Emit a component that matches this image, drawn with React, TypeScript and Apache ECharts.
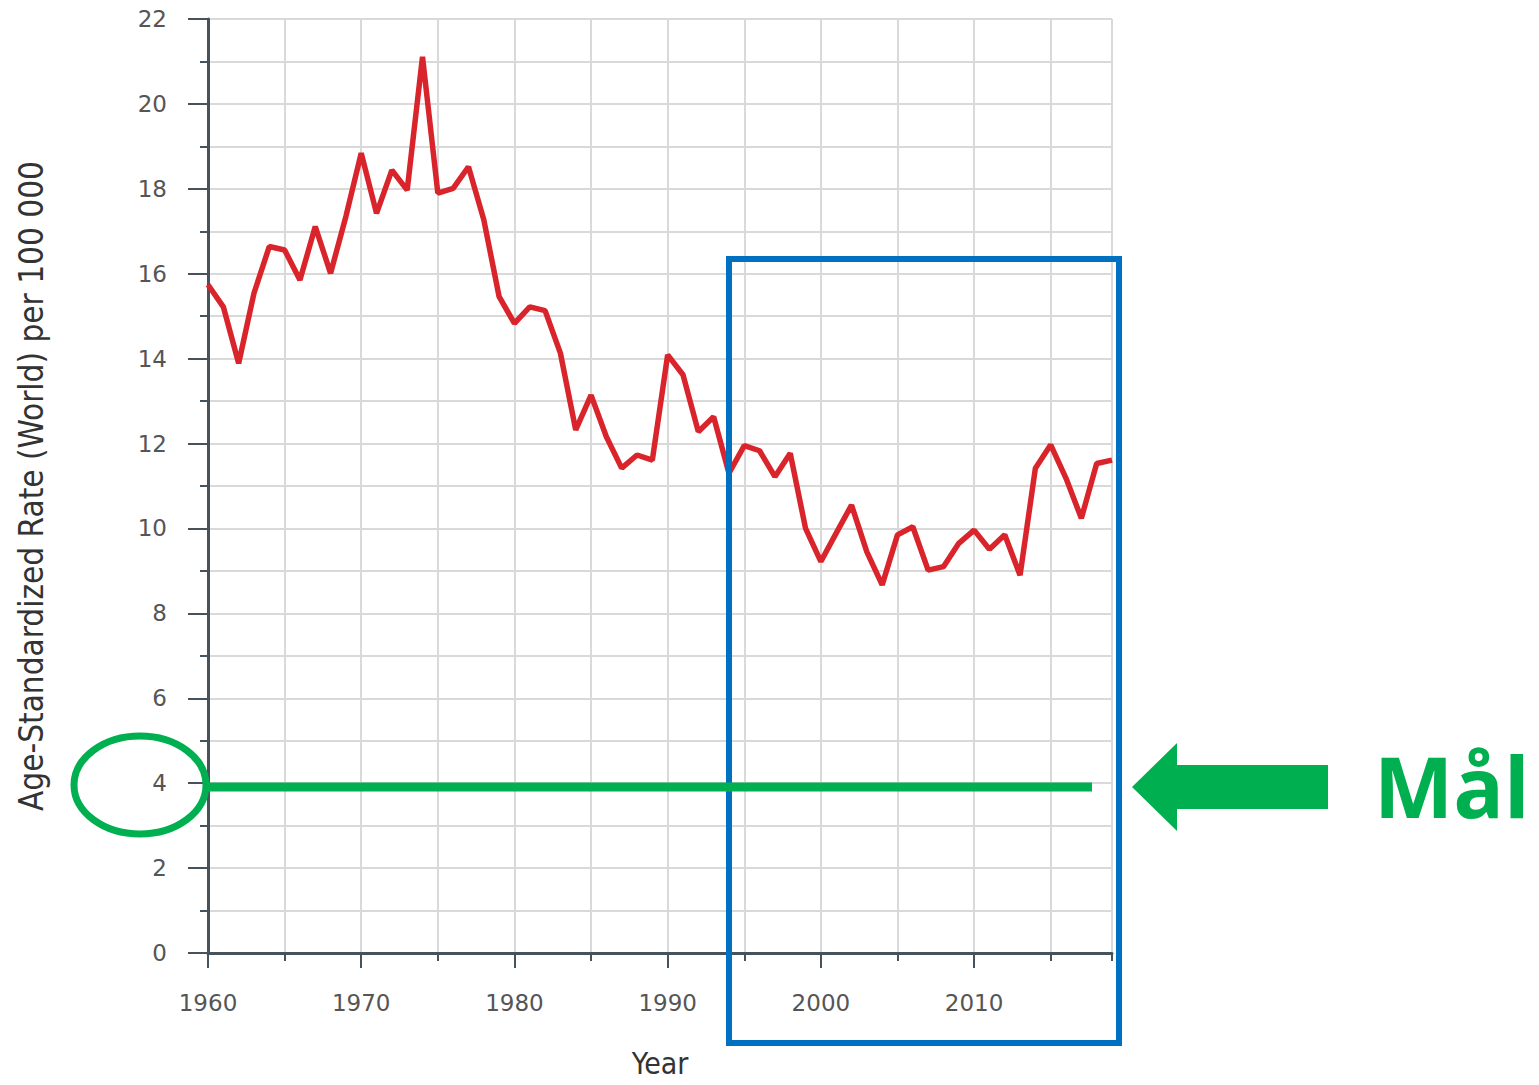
import React, { useEffect, useRef } from "react";
import * as echarts from "echarts";

const years: number[] = [
  1960, 1961, 1962, 1963, 1964, 1965, 1966, 1967, 1968, 1969,
  1970, 1971, 1972, 1973, 1974, 1975, 1976, 1977, 1978, 1979,
  1980, 1981, 1982, 1983, 1984, 1985, 1986, 1987, 1988, 1989,
  1990, 1991, 1992, 1993, 1994, 1995, 1996, 1997, 1998, 1999,
  2000, 2001, 2002, 2003, 2004, 2005, 2006, 2007, 2008, 2009,
  2010, 2011, 2012, 2013, 2014, 2015, 2016, 2017, 2018, 2019,
];
const rates: number[] = [
  15.74, 15.22, 13.89, 15.54, 16.64, 16.56, 15.85, 17.11, 16.01, 17.35,
  18.84, 17.42, 18.44, 17.97, 21.11, 17.9, 18.01, 18.52, 17.27, 15.46,
  14.83, 15.22, 15.13, 14.13, 12.32, 13.14, 12.16, 11.42, 11.73, 11.61,
  14.09, 13.62, 12.28, 12.63, 11.3, 11.95, 11.83, 11.22, 11.77, 10.0,
  9.22, 9.89, 10.55, 9.45, 8.67, 9.85, 10.04, 9.02, 9.1, 9.65,
  9.96, 9.51, 9.85, 8.9, 11.42, 11.97, 11.18, 10.24, 11.53, 11.61,
];
const xLabelYears: number[] = [1960, 1970, 1980, 1990, 2000, 2010];
const goalLabel = "Mål";
const yAxisTitle = "Age-Standardized Rate (World) per 100 000";
const xAxisTitle = "Year";

const axisColor = "#46525c";
const gridColor = "#d9d9d9";
const green = "#00b050";
const titleFont = "DejaVu Sans Condensed, DejaVu Sans, sans-serif";

export default function App() {
  const ref = useRef<HTMLDivElement>(null);
  useEffect(() => {
    if (!ref.current) return;
    const chart = echarts.init(ref.current, undefined, { renderer: "svg" });
    const data = years.map((y, i) => [y, rates[i]]);
    chart.setOption({
      animation: false,
      backgroundColor: "#ffffff",
      grid: { left: 208, right: 427, top: 19, bottom: 132, outerBoundsMode: "none", containLabel: false },
      xAxis: [
        {
          type: "value",
          min: 1960,
          max: 2019,
          interval: 10,
          name: xAxisTitle,
          nameLocation: "middle",
          nameGap: 95,
          nameTextStyle: { fontSize: 30, color: "#333", fontFamily: titleFont },
          axisLine: { show: true, onZero: false, lineStyle: { color: axisColor, width: 3 } },
          axisTick: { show: true, length: 15, customValues: xLabelYears, lineStyle: { color: axisColor, width: 2 } },
          axisLabel: {
            show: true,
            customValues: xLabelYears,
            margin: 38,
            fontSize: 23,
            color: "#555",
            fontFamily: "DejaVu Sans",
            formatter: (v: number) => String(v),
          },
          splitLine: { show: false },
        },
        {
          type: "value",
          min: 1960,
          max: 2019,
          interval: 5,
          position: "bottom",
          axisLine: { show: false },
          axisTick: { show: true, length: 8, lineStyle: { color: axisColor, width: 2 } },
          axisLabel: { show: false },
          splitLine: { show: true, lineStyle: { color: gridColor, width: 2 } },
        },
      ],
      yAxis: {
        type: "value",
        min: 0,
        max: 22,
        interval: 2,
        name: yAxisTitle,
        nameLocation: "middle",
        nameGap: 160,
        nameTextStyle: { fontSize: 33, color: "#333", fontFamily: titleFont },
        axisLine: { show: true, lineStyle: { color: axisColor, width: 3 } },
        axisTick: { show: true, length: 20, lineStyle: { color: axisColor, width: 2 } },
        minorTick: { show: true, splitNumber: 2, length: 8, lineStyle: { color: axisColor, width: 2 } },
        axisLabel: { margin: 41, fontSize: 23, color: "#555", fontFamily: "DejaVu Sans" },
        splitLine: { show: true, lineStyle: { color: gridColor, width: 2 } },
        minorSplitLine: { show: true, lineStyle: { color: gridColor, width: 2 } },
      },
      series: [
        {
          type: "line",
          data,
          showSymbol: false,
          symbol: "none",
          lineStyle: { color: "#d9242b", width: 5.5 },
          z: 3,
        },
      ],
      graphic: [
        {
          type: "rect",
          z: 100,
          shape: { x: 729, y: 259, width: 390, height: 784 },
          style: { fill: "none", stroke: "#0070c0", lineWidth: 6 },
        },
        {
          type: "line",
          z: 100,
          shape: { x1: 208, y1: 787, x2: 1092, y2: 787 },
          style: { stroke: green, lineWidth: 9 },
        },
        {
          type: "ellipse",
          z: 100,
          shape: { cx: 140, cy: 785, rx: 66, ry: 49 },
          style: { fill: "none", stroke: green, lineWidth: 7 },
        },
        {
          type: "polygon",
          z: 100,
          shape: {
            points: [
              [1132, 787], [1177, 743], [1177, 765], [1328, 765],
              [1328, 809], [1177, 809], [1177, 831],
            ],
          },
          style: { fill: green },
        },
        {
          type: "text",
          z: 100,
          x: 1374,
          y: 785,
          style: {
            text: goalLabel,
            fontSize: 84,
            fontWeight: "bold",
            fontFamily: "Open Sans, Noto Sans, sans-serif",
            fill: green,
            align: "left",
            verticalAlign: "middle",
          },
        },
      ],
    });
    return () => chart.dispose();
  }, []);
  return (
    <div
      ref={ref}
      style={{ position: "fixed", left: 0, top: 0, width: 1539, height: 1085, background: "#fff" }}
    />
  );
}
